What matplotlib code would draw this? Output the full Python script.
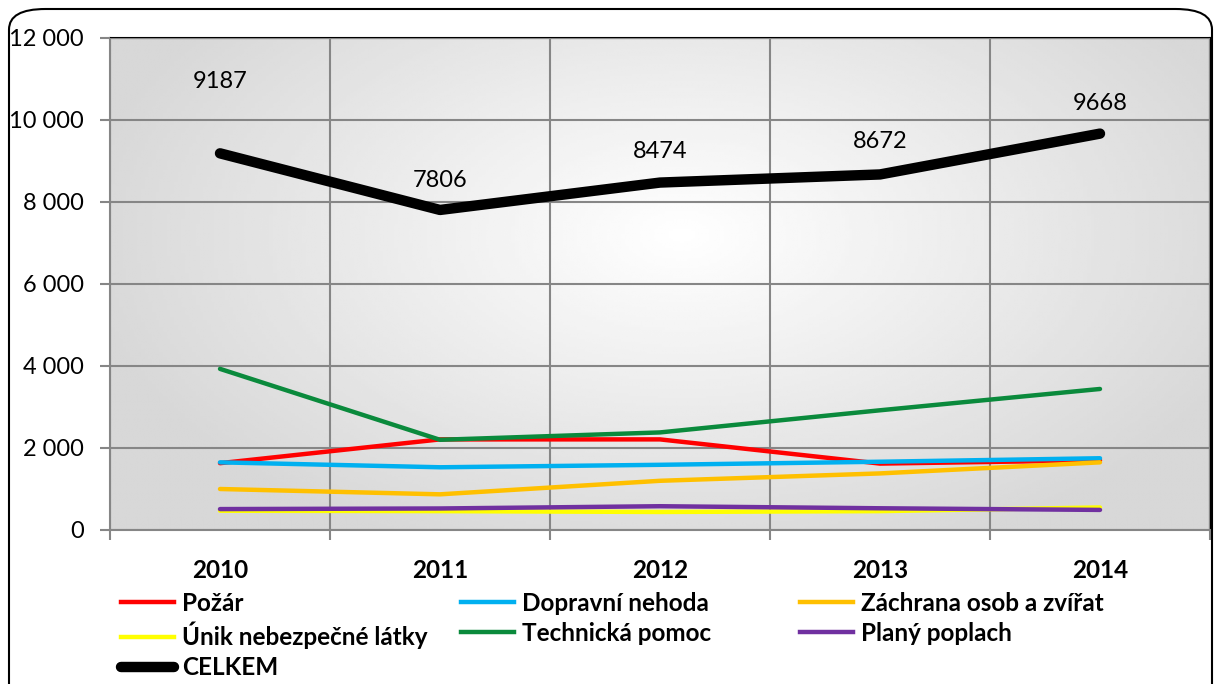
import numpy as np
import matplotlib
matplotlib.use("Agg")
import matplotlib.pyplot as plt
from matplotlib.lines import Line2D
from matplotlib.patches import FancyBboxPatch

plt.rcParams['font.family'] = ['Lato', 'DejaVu Sans']

# data
years = ["2010", "2011", "2012", "2013", "2014"]
pozar = [1630, 2210, 2210, 1620, 1700]
dopravni = [1650, 1530, 1590, 1665, 1750]
zachrana = [1000, 870, 1200, 1380, 1650]
unik = [470, 460, 440, 460, 550]
technicka = [3930, 2200, 2380, 2920, 3440]
plany = [510, 525, 580, 530, 490]
celkem = [9187, 7806, 8474, 8672, 9668]

names = ["Požár", "Dopravní nehoda", "Záchrana osob a zvířat",
         "Únik nebezpečné látky", "Technická pomoc", "Planý poplach"]
colors = ["#FF0000", "#00B0F0", "#FFC000", "#FFFF00", "#0A8A3C", "#7030A0"]
series = [pozar, dopravni, zachrana, unik, technicka, plany]

yticks = [0, 2000, 4000, 6000, 8000, 10000, 12000]
ytick_labels = ["0", "2 000", "4 000", "6 000", "8 000", "10 000", "12 000"]

fig = plt.figure(figsize=(12.15, 6.84), dpi=100)
ax = fig.add_axes([110/1215, 1 - 530/684, 1100/1215, 492/684])

# radial grey background of the plot area
gx, gy = np.meshgrid(np.linspace(0, 1, 300), np.linspace(0, 1, 200))
r = np.sqrt(((gx - 0.52) / 0.55) ** 2 + ((gy - 0.6) / 0.7) ** 2)
r = np.clip(r, 0, 1)
shade = 1.0 - (1.0 - 0.845) * r
ax.imshow(shade, cmap="gray", vmin=0, vmax=1, extent=[0, 1, 0, 1],
          transform=ax.transAxes, aspect="auto", zorder=0, origin="lower")

x = np.arange(len(years))
for vals, name, c in zip(series, names, colors):
    ax.plot(x, vals, color=c, lw=3.2, solid_capstyle="round", zorder=3, label=name)
ax.plot(x, celkem, color="black", lw=7.5, solid_capstyle="round", zorder=4, label="CELKEM")

# data labels for CELKEM
offsets = [44, 14, 15, 16, 14]
for xi, v, off in zip(x, celkem, offsets):
    ax.annotate(str(v), (xi, v), xytext=(0, off), textcoords="offset points",
                ha="center", va="bottom", fontsize=17, zorder=5)

ax.set_xlim(-0.5, 4.5)
ax.set_ylim(0, 12000)
ax.set_yticks(yticks)
ax.set_yticklabels(ytick_labels, fontsize=17)
ax.set_xticks(x)
ax.set_xticklabels(years, fontsize=17.5, fontweight="bold")
ax.set_xticks(np.arange(-0.5, 5, 1), minor=True)
ax.tick_params(axis="x", which="major", length=0, pad=21)
ax.tick_params(axis="x", which="minor", length=7, width=1.5, color="#868686")
ax.tick_params(axis="y", length=7, width=1.5, color="#868686", pad=12)

ax.grid(True, axis="y", color="#868686", lw=1.5, zorder=1)
ax.grid(True, axis="x", which="minor", color="#868686", lw=1.5, zorder=1)
for s in ["left", "bottom"]:
    ax.spines[s].set_color("#868686")
    ax.spines[s].set_linewidth(1.5)
for s in ["top", "right"]:
    ax.spines[s].set_color("black")
    ax.spines[s].set_linewidth(1.5)
ax.set_axisbelow(False)

# legend laid out row-wise as in the original, one legend per column
handles = [Line2D([], [], color=c, lw=3.2) for c in colors]
handles.append(Line2D([], [], color="black", lw=7.5, solid_capstyle="round"))
labels = names + ["CELKEM"]
cols = [[0, 3, 6], [1, 4], [2, 5]]
col_x = [121, 461, 800]
for idx, cx in zip(cols, col_x):
    leg = fig.legend([handles[i] for i in idx], [labels[i] for i in idx],
                     loc="upper left", bbox_to_anchor=(cx / 1215, 1 - 592 / 684),
                     frameon=False, handlelength=2.2, handletextpad=0.3,
                     labelspacing=0.28, borderaxespad=0, borderpad=0,
                     prop={"size": 17.5, "weight": "bold"})

border = FancyBboxPatch((9 / 1215, -0.05), 1203 / 1215, 1 - 9 / 684 + 0.05,
                        boxstyle="round,pad=0,rounding_size=0.03",
                        transform=fig.transFigure, fill=False, ec="black", lw=1.5)
fig.patches.append(border)

fig.savefig("out.png", dpi=100)
